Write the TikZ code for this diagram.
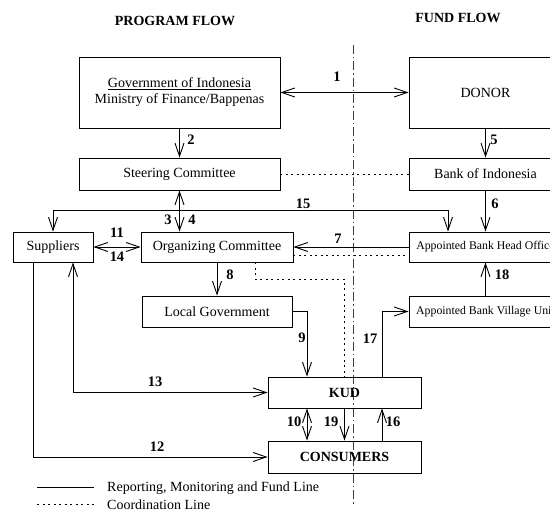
\documentclass[tikz,border=0pt]{standalone}
\usepackage{fontspec}
\setmainfont{Liberation Serif}
\usetikzlibrary{arrows.meta,calc}
\begin{document}
\begin{tikzpicture}[x=1pt,y=-1pt,
  box/.style={draw,line width=0.9pt,inner sep=0pt,font=\fontsize{14}{16}\selectfont,align=center},
  bankbox/.style={box,font=\fontsize{11.8}{14}\selectfont},
  num/.style={font=\fontsize{14.5}{16}\selectfont\bfseries,inner sep=0pt},
  title/.style={font=\fontsize{14}{16}\selectfont\bfseries,inner sep=0pt},
  legend/.style={font=\fontsize{14}{16}\selectfont,inner sep=0pt,anchor=west},
  line/.style={line width=0.9pt},
  arr/.style={line,-{Straight Barb[length=13pt,width=9pt,line width=0.9pt]}},
  darr/.style={line,{Straight Barb[length=13pt,width=9pt,line width=0.9pt]}-{Straight Barb[length=13pt,width=9pt,line width=0.9pt]}},
  coord/.style={line width=0.9pt,dash pattern=on 2pt off 3.5pt},
  divider/.style={line width=0.9pt,black!75,dash pattern=on 9pt off 3pt on 1.5pt off 3pt}
]
\useasboundingbox (0,0) rectangle (550,513);
\clip (0,0) rectangle (550,513);
\fill[white] (0,0) rectangle (550,513);

% titles
\node[title] (tprog) at (175,21) {PROGRAM FLOW};
\node[title] (tfund) at (458,18) {FUND FLOW};

% divider
\coordinate (dtop) at (353,45);
\coordinate (dbot) at (353,505);
\draw[divider] (dtop) -- (dbot);

% boxes
\node[box,minimum width=201pt,minimum height=71pt] (gov) at (179.5,92.5)
  {\underline{Government of Indonesia}\\Ministry of Finance/Bappenas};
\node[box,minimum width=153pt,minimum height=71pt] (donor) at (485.5,92.5) {DONOR};
\node[box,minimum width=201pt,minimum height=32pt] (steer) at (179.5,174) {Steering Committee};
\node[box,minimum width=153pt,minimum height=32pt] (boi) at (485.5,174) {Bank of Indonesia};
\node[box,minimum width=80pt,minimum height=30pt] (sup) at (53,247) {Suppliers};
\node[box,minimum width=152pt,minimum height=30pt] (org) at (217,247) {Organizing Committee};
\node[bankbox,minimum width=153pt,minimum height=30pt] (abho) at (485.5,247) {Appointed Bank Head Office};
\node[box,minimum width=150pt,minimum height=31pt] (lg) at (217,311.5) {Local Government};
\node[bankbox,minimum width=153pt,minimum height=31pt] (abvu) at (485.5,311.5) {Appointed Bank Village Unit};
\node[box,minimum width=153pt,minimum height=31pt,font=\fontsize{14}{16}\selectfont\bfseries] (kud) at (344.5,392.5) {KUD};
\node[box,minimum width=153pt,minimum height=32pt,font=\fontsize{14}{16}\selectfont\bfseries] (cons) at (344.5,457) {CONSUMERS};

% connectors
\draw[darr] (gov.east) -- (donor.west);
\draw[arr] (gov.south) -- (steer.north);
\draw[arr] (donor.south) -- (boi.north);
\draw[coord] (steer.east) -- (boi.west);
\draw[darr] (steer.south) -- (steer.south |- org.north);
\draw[darr] (sup.north) -- ++(0,-21) -| ([xshift=-37.5pt]abho.north);
\draw[arr] (boi.south) -- (abho.north);
\draw[darr] (sup.east) -- (org.west);
\draw[arr] (abho.west) -- (org.east);
\draw[coord] ([yshift=-8pt]org.east) -- ([yshift=-8pt]abho.west);
\draw[coord] ([xshift=38pt]org.south) -- ++(0,17) -| (kud.north);
\draw[arr] (org.south) -- (lg.north);
\draw[arr] (abvu.north) -- (abho.south);
\draw[arr] (lg.east) -| ([xshift=-37.5pt]kud.north);
\draw[arr] ([xshift=37.5pt]kud.north) |- (abvu.west);
\draw[darr] ([xshift=20pt]sup.south) |- (kud.west);
\draw[arr] ([xshift=-20pt]sup.south) |- (cons.west);
\draw[darr] ([xshift=-37.5pt]kud.south) -- ([xshift=-37.5pt]cons.north);
\draw[arr] (kud.south) -- (cons.north);
\draw[arr] ([xshift=37.5pt]cons.north) -- ([xshift=37.5pt]kud.south);

% labels
\node[num] (n1) at (337,77) {1};
\node[num] (n2) at (191,140) {2};
\node[num] (n5) at (494,140) {5};
\node[num] (n3) at (168,220) {3};
\node[num] (n4) at (192,220) {4};
\node[num] (n15) at (303,204) {15};
\node[num] (n6) at (495,204) {6};
\node[num] (n11) at (117,233) {11};
\node[num] (n14) at (117,257) {14};
\node[num] (n7) at (338,239) {7};
\node[num] (n8) at (230,275) {8};
\node[num] (n18) at (502,275) {18};
\node[num] (n9) at (302,338) {9};
\node[num] (n17) at (370,339) {17};
\node[num] (n13) at (155,382) {13};
\node[num] (n12) at (157,447) {12};
\node[num] (n10) at (294,422) {10};
\node[num] (n19) at (331,422) {19};
\node[num] (n16) at (393,422) {16};

% legend
\coordinate (l1a) at (37,487);
\coordinate (l1b) at (94,487);
\coordinate (l2a) at (37,504);
\coordinate (l2b) at (94,504);
\draw[line] (l1a) -- (l1b);
\draw[coord] (l2a) -- (l2b);
\node[legend] (lt1) at (107,488) {Reporting, Monitoring and Fund Line};
\node[legend] (lt2) at (107,505) {Coordination Line};
\end{tikzpicture}
\end{document}
